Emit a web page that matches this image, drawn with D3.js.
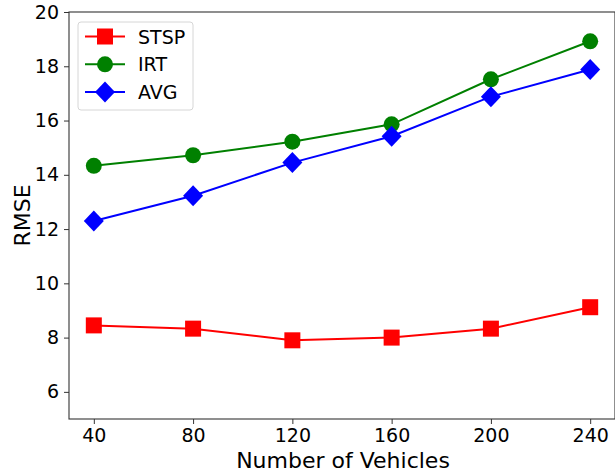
<!DOCTYPE html>
<html lang="en">
<head>
<meta charset="UTF-8">
<title>RMSE vs vehicles</title>
<script src="https://cdn.jsdelivr.net/npm/d3@7/dist/d3.min.js"></script>
<style>
  body { margin: 0; background: #fff; }
  svg text { font-family: "DejaVu Sans", sans-serif; fill: #000; }
</style>
</head>
<body>
<div id="grafica"></div>
<script>
// data
vehicles = [40, 80, 120, 160, 200, 240]
stsp = [8.45, 8.33, 7.9, 8.0, 8.33, 9.12]
irt = [14.33, 14.72, 15.22, 15.86, 17.52, 18.92]
avg = [12.3, 13.23, 14.45, 15.42, 16.88, 17.88]
yTicks = [6, 8, 10, 12, 14, 16, 18, 20]

series = [
  {name: 'STSP', values: stsp, color: '#ff0000', marker: 'square'},
  {name: 'IRT', values: irt, color: '#008000', marker: 'circle'},
  {name: 'AVG', values: avg, color: '#0000ff', marker: 'diamond'}
]

ancho_total = 615
alto_total = 473
margin = {top: 12, right: 0, bottom: 54, left: 69}
ancho = ancho_total - margin.left - margin.right
alto = alto_total - margin.top - margin.bottom

svg = d3.select('#grafica')
  .append('svg')
  .attr('width', ancho_total)
  .attr('height', alto_total)

g = svg.append('g')
  .attr('transform', 'translate(' + margin.left + ',' + margin.top + ')')

x = d3.scaleLinear().domain([30, 250]).range([0, ancho])
y = d3.scaleLinear().domain([5, 20]).range([alto, 0])

// axes
xAxis = g.append('g')
  .attr('transform', 'translate(0,' + alto + ')')
  .call(d3.axisBottom(x).tickValues(vehicles).tickSize(5).tickPadding(5))
yAxis = g.append('g')
  .call(d3.axisLeft(y).tickValues(yTicks).tickSize(5).tickPadding(5))

g.selectAll('.tick text').style('font-size', '19px')
g.selectAll('.domain').remove()
g.selectAll('.tick line').attr('stroke', '#333')

// frame
g.append('rect')
  .attr('x', 0).attr('y', 0)
  .attr('width', ancho).attr('height', alto)
  .attr('fill', 'none')
  .attr('stroke', '#333')
  .attr('stroke-width', 1.1)

// labels
svg.append('text')
  .attr('x', margin.left + x(140) + 1)
  .attr('y', 468)
  .attr('text-anchor', 'middle')
  .style('font-size', '22px')
  .text('Number of Vehicles')

svg.append('text')
  .attr('transform', 'translate(30,' + (margin.top + y(12.5)) + ') rotate(-90)')
  .attr('text-anchor', 'middle')
  .style('font-size', '22px')
  .text('RMSE')

function drawMarker(sel, type, color) {
  if (type == 'square') {
    sel.append('rect')
      .attr('x', -8).attr('y', -8)
      .attr('width', 16).attr('height', 16)
      .attr('fill', color)
  } else if (type == 'circle') {
    sel.append('circle').attr('r', 8).attr('fill', color)
  } else {
    sel.append('path')
      .attr('d', 'M0,-10.5L10,0L0,10.5L-10,0Z')
      .attr('fill', color)
  }
}

linea = d3.line()
  .x((d, i) => x(vehicles[i]))
  .y(d => y(d))

series.forEach(s => {
  g.append('path')
    .attr('fill', 'none')
    .attr('stroke', s.color)
    .attr('stroke-width', 2)
    .attr('d', linea(s.values))
  s.values.forEach((v, i) => {
    m = g.append('g').attr('transform', 'translate(' + x(vehicles[i]) + ',' + y(v) + ')')
    drawMarker(m, s.marker, s.color)
  })
})

// legend
leg = svg.append('g').attr('transform', 'translate(78,22)')
leg.append('rect')
  .attr('width', 115).attr('height', 88)
  .attr('rx', 3)
  .attr('fill', '#fff').attr('fill-opacity', 0.8)
  .attr('stroke', '#d6d6d6')

series.forEach((s, i) => {
  row = leg.append('g').attr('transform', 'translate(0,' + (14.5 + i * 27.8) + ')')
  row.append('line')
    .attr('x1', 7).attr('x2', 47)
    .attr('stroke', s.color).attr('stroke-width', 2)
  m = row.append('g').attr('transform', 'translate(27,0)')
  drawMarker(m, s.marker, s.color)
  row.append('text')
    .attr('x', 60).attr('y', 7)
    .style('font-size', '19px')
    .text(s.name)
})
</script>
</body>
</html>
